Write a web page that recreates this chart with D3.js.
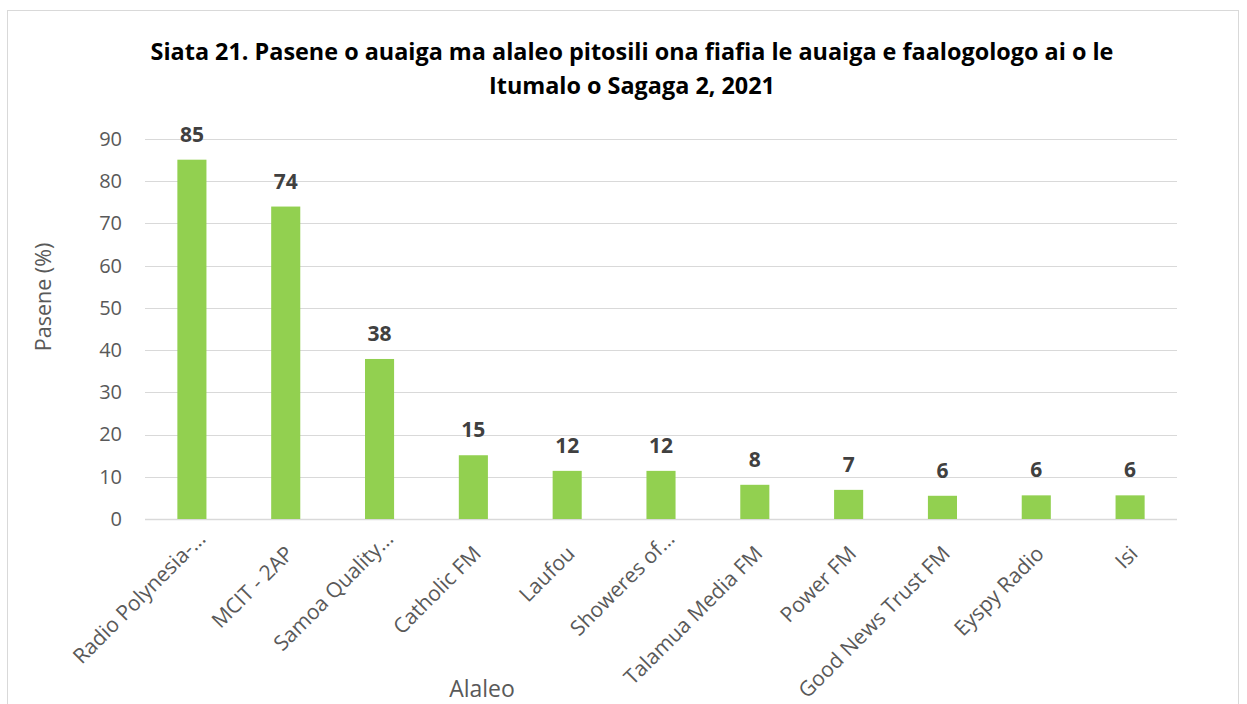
<!DOCTYPE html>
<html>
<head>
<meta charset="utf-8">
<script src="https://cdn.jsdelivr.net/npm/d3@7"></script>
<style>
  body { margin: 0; background: #fff; }
  svg { display: block; }
</style>
</head>
<body>
<svg id="chart" width="1247" height="704"></svg>
<script>
const categories = ['Radio Polynesia-...', 'MCIT - 2AP', 'Samoa Quality...', 'Catholic FM', 'Laufou',
    'Showeres of...', 'Talamua Media FM', 'Power FM', 'Good News Trust FM', 'Eyspy Radio', 'Isi']
const values = [85.1, 74.0, 37.9, 15.1, 11.4, 11.4, 8.1, 6.9, 5.5, 5.6, 5.6]
const labels = ['85', '74', '38', '15', '12', '12', '8', '7', '6', '6', '6']
const yTicks = [0, 10, 20, 30, 40, 50, 60, 70, 80, 90]

const svg = d3.select('#chart')
const font = "'Open Sans', sans-serif"

// outer chart border
svg.append('rect')
    .attr('x', 7.5).attr('y', 10.5)
    .attr('width', 1231).attr('height', 700)
    .attr('fill', 'white')
    .attr('stroke', '#d9d9d9')
    .attr('stroke-width', 1)

const plot = { left: 145, right: 1177, top: 139, bottom: 519 }

const x = d3.scaleBand()
    .domain(categories)
    .range([plot.left, plot.right])
    .paddingInner(0.69)
    .paddingOuter(0.345)

const y = d3.scaleLinear()
    .domain([0, 90])
    .range([plot.bottom, plot.top])

// gridlines
svg.append('g').selectAll('line')
    .data(yTicks)
    .enter()
    .append('line')
    .attr('x1', plot.left)
    .attr('x2', plot.right)
    .attr('y1', d => Math.round(y(d)) + 0.5)
    .attr('y2', d => Math.round(y(d)) + 0.5)
    .attr('stroke', '#d9d9d9')
    .attr('stroke-width', d => d === 0 ? 1.5 : 1.2)

// y tick labels
const yAxis = svg.append('g')
    .attr('transform', 'translate(' + (plot.left - 23) + ',0)')
    .call(d3.axisLeft(y).tickValues(yTicks).tickSize(0).tickPadding(0))
yAxis.select('.domain').remove()
yAxis.selectAll('text')
    .attr('font-size', '20px')
    .attr('font-family', font)
    .attr('fill', '#595959')

// bars
svg.append('g').selectAll('rect')
    .data(values)
    .enter()
    .append('rect')
    .attr('x', (d, i) => x(categories[i]))
    .attr('y', d => y(d))
    .attr('width', x.bandwidth())
    .attr('height', d => y(0) - y(d))
    .attr('fill', '#92d050')

// value labels
svg.append('g').selectAll('text')
    .data(values)
    .enter()
    .append('text')
    .text((d, i) => labels[i])
    .attr('x', (d, i) => x(categories[i]) + x.bandwidth() / 2)
    .attr('y', d => y(d) - 18)
    .attr('text-anchor', 'middle')
    .attr('font-size', '21px')
    .attr('font-weight', 'bold')
    .attr('font-family', font)
    .attr('fill', '#404040')

// x category labels (rotated); truncated ones sit higher, as Excel draws them
svg.append('g').selectAll('text')
    .data(categories)
    .enter()
    .append('text')
    .text(d => d)
    .attr('transform', d => {
        let cut = d.endsWith('...')
        let cx = x(d) + x.bandwidth() / 2 + (cut ? 15 : 9)
        let cy = plot.bottom + (cut ? 21 : 36)
        return 'translate(' + cx + ',' + cy + ') rotate(-45)'
    })
    .attr('text-anchor', 'end')
    .attr('font-size', '21px')
    .attr('font-family', font)
    .attr('fill', '#595959')

// axis titles
svg.append('text')
    .text('Pasene (%)')
    .attr('transform', 'translate(51,297) rotate(-90)')
    .attr('text-anchor', 'middle')
    .attr('font-size', '21.5px')
    .attr('font-family', font)
    .attr('fill', '#595959')

svg.append('text')
    .text('Alaleo')
    .attr('x', 482)
    .attr('y', 697)
    .attr('text-anchor', 'middle')
    .attr('font-size', '23px')
    .attr('font-family', font)
    .attr('fill', '#595959')

// title
const title = svg.append('text')
    .attr('text-anchor', 'middle')
    .attr('font-size', '23.4px')
    .attr('font-weight', 'bold')
    .attr('font-family', font)
    .attr('fill', '#000')
title.append('tspan').attr('x', 632).attr('y', 60)
    .text('Siata 21. Pasene o auaiga ma alaleo pitosili ona fiafia le auaiga e faalogologo ai o le')
title.append('tspan').attr('x', 632).attr('y', 94)
    .text('Itumalo o Sagaga 2, 2021')
</script>
</body>
</html>
